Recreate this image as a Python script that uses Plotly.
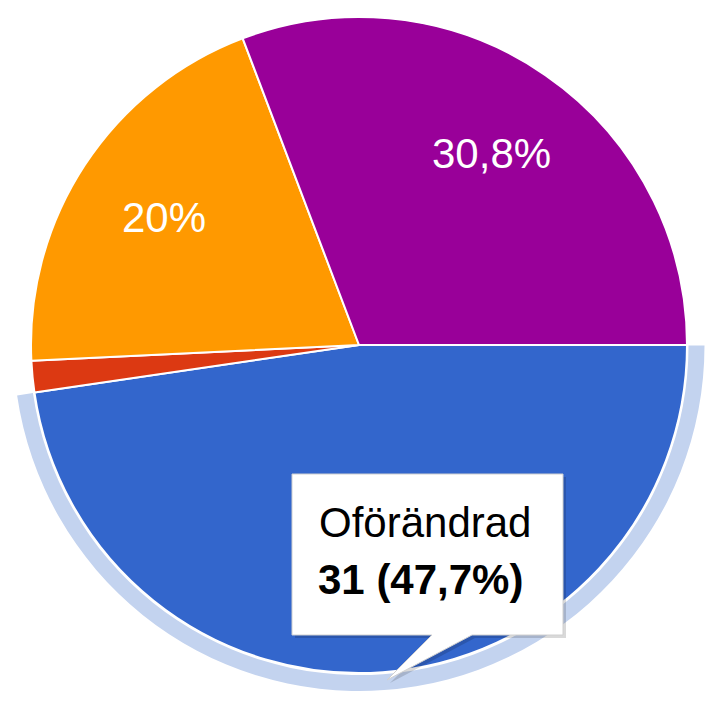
import math
import plotly.graph_objects as go

# ---- data ----
labels = ["Oförändrad", "Övrigt", "Försämrad", "Förbättrad"]
values = [31, 1, 13, 20]
colors = ["#3366cc", "#dc3912", "#ff9900", "#990099"]
shown_labels = [False, False, True, True]
tooltip_index = 0

W, H = 705, 703
cx, cy, r = 359, 345, 328          # pie centre / radius in pixels
ring_in, ring_out = 330, 346
total = sum(values)


def pct(v):
    p = round(100 * v / total, 1)
    s = ("%.1f" % p).rstrip("0").rstrip(".")
    return s.replace(".", ",") + "%"


fig = go.Figure()

# highlight ring around hovered slice
ring_colors = ["#c3d3ef" if i == tooltip_index else "rgba(0,0,0,0)" for i in range(len(values))]
fig.add_trace(go.Pie(
    labels=labels, values=values, sort=False, direction="clockwise", rotation=90,
    marker=dict(colors=ring_colors, line=dict(width=0)),
    hole=ring_in / ring_out, textinfo="none", hoverinfo="skip", showlegend=False,
    domain=dict(x=[(cx - ring_out) / W, min(1, (cx + ring_out) / W)],
                y=[(H - cy - ring_out) / H, min(1, (H - cy + ring_out) / H)]),
))

# main pie
fig.add_trace(go.Pie(
    labels=labels, values=values, sort=False, direction="clockwise", rotation=90,
    marker=dict(colors=colors, line=dict(color="white", width=2)),
    textinfo="none", showlegend=False,
    domain=dict(x=[(cx - r) / W, (cx + r) / W], y=[(H - cy - r) / H, (H - cy + r) / H]),
))

# slice labels, positioned from the data angles
annotations = []
cum = 0
for v, show in zip(values, shown_labels):
    mid = math.radians(90 + 360 * (cum + v / 2) / total)
    cum += v
    if not show:
        continue
    annotations.append(dict(
        x=cx + 0.71 * r * math.sin(mid), y=cy - 0.71 * r * math.cos(mid),
        xref="x", yref="y", text=pct(v), showarrow=False,
        font=dict(family="Liberation Sans, Arial", size=42, color="white"),
        xanchor="center", yanchor="middle",
    ))

# tooltip
bx0, by0, bx1, by1 = 292, 474, 563, 635
tail = [(472, by1), (387, 680), (432, by1)]


def box_path(dx=0, dy=0):
    pts = [(bx0, by0), (bx1, by0), (bx1, by1)] + tail + [(bx0, by1)]
    return "M " + " L ".join("%g,%g" % (x + dx, y + dy) for x, y in pts) + " Z"


shapes = [
    dict(type="path", path=box_path(3, 3), xref="x", yref="y", layer="above",
         fillcolor="rgba(0,0,0,0.15)", line=dict(width=0)),
    dict(type="path", path=box_path(), xref="x", yref="y", layer="above",
         fillcolor="white", line=dict(color="#d0d0d0", width=1)),
]
annotations.append(dict(
    x=317, y=522, xref="x", yref="y", text=labels[tooltip_index], showarrow=False,
    font=dict(family="Liberation Sans, Arial", size=42, color="black"),
    xanchor="left", yanchor="middle",
))
annotations.append(dict(
    x=316, y=579, xref="x", yref="y",
    text="<b>%d (%s)</b>" % (values[tooltip_index], pct(values[tooltip_index])),
    showarrow=False,
    font=dict(family="Liberation Sans, Arial", size=42, color="black"),
    xanchor="left", yanchor="middle",
))

fig.update_layout(
    width=W, height=H, margin=dict(l=0, r=0, t=0, b=0),
    paper_bgcolor="white", plot_bgcolor="rgba(0,0,0,0)",
    xaxis=dict(range=[0, W], visible=False, domain=[0, 1]),
    yaxis=dict(range=[H, 0], visible=False, domain=[0, 1]),
    shapes=shapes, annotations=annotations,
)

fig.write_html("out.html")
